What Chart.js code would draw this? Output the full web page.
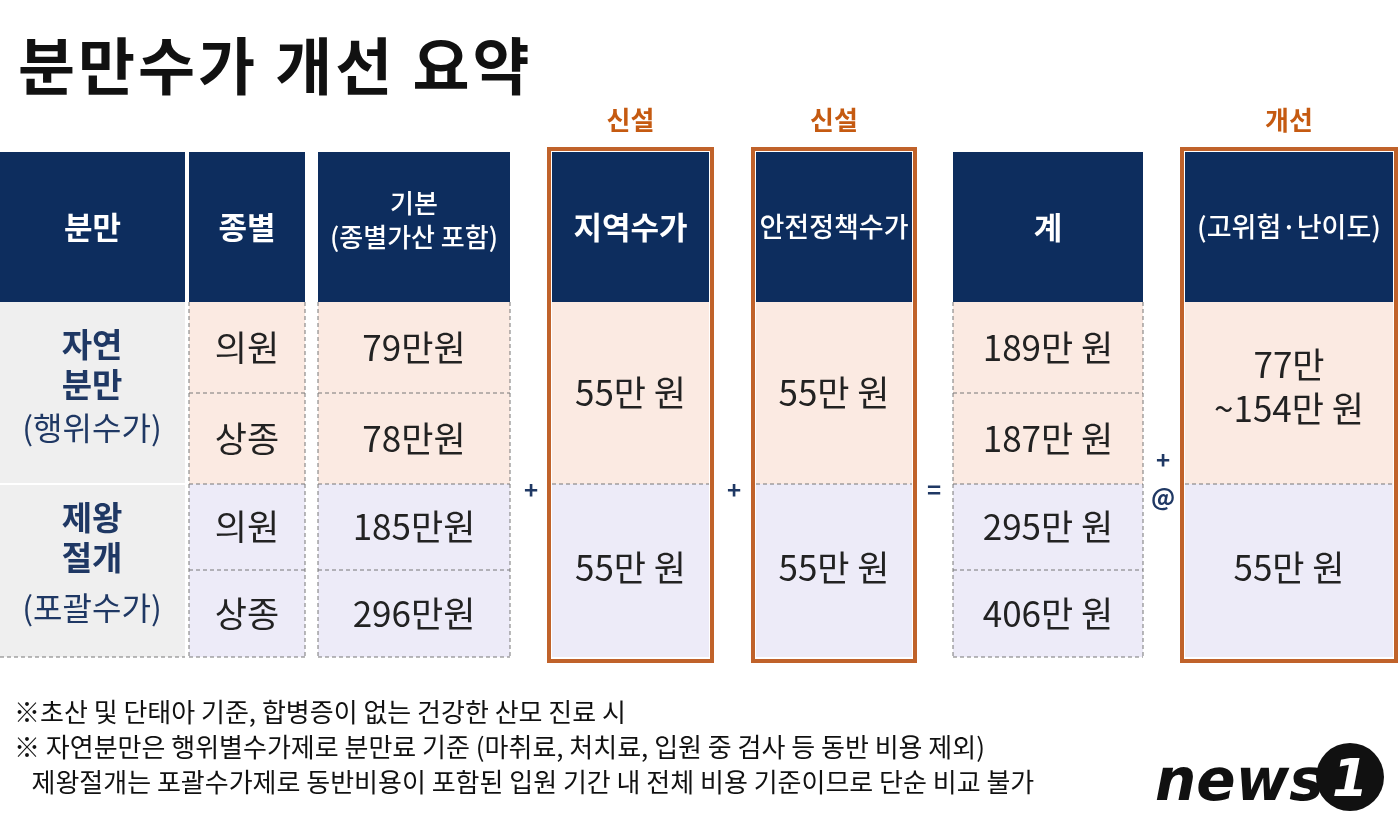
<!DOCTYPE html><html><head><meta charset="utf-8">
<script src="https://cdn.jsdelivr.net/npm/chart.js@4"></script>
<style>html,body{margin:0;padding:0;background:#fff}#w{width:1400px;height:830px}</style></head><body>
<div id="w"><canvas id="c" width="1400" height="830"></canvas></div>
<script>
const title = "분만수가 개선 요약";
const headers = ["분만","종별","기본\n(종별가산 포함)","지역수가","안전정책수가","계","(고위험·난이도)"];
const topLabels = [null,null,null,"신설","신설",null,"개선"];
const groups = ["자연\n분만","제왕\n절개"];
const groupSub = ["(행위수가)","(포괄수가)"];
const kinds = ["의원","상종","의원","상종"];
const basic = ["79만원","78만원","185만원","296만원"];
const regional = ["55만 원","55만 원"];
const safety = ["55만 원","55만 원"];
const totals = ["189만 원","187만 원","295만 원","406만 원"];
const improve = ["77만\n~154만 원","55만 원"];
const ops = ["+","+","=","+\n@"];
const notes = ["※초산 및 단태아 기준, 합병증이 없는 건강한 산모 진료 시",
"※ 자연분만은 행위별수가제로 분만료 기준 (마취료, 처치료, 입원 중 검사 등 동반 비용 제외)",
"   제왕절개는 포괄수가제로 동반비용이 포함된 입원 기간 내 전체 비용 기준이므로 단순 비교 불가"];
const colL=[0,189,318,552,756,953,1185], colR=[185,305,510,709,912,1143,1393];
const rowB=[152,302,393,484,570,657];
const F="'Noto Sans CJK KR','Noto Sans',sans-serif";
const plugin={id:'tbl',afterDraw(ch){
 const c=ch.ctx,X=v=>ch.scales.x.getPixelForValue(v),Y=v=>ch.scales.y.getPixelForValue(v);
 c.save();c.textAlign='left';c.textBaseline='alphabetic';
 c.fillStyle='#111';c.font="bold 62px "+F;c.letterSpacing='3px';c.fillText(title,X(18),Y(90));c.letterSpacing='0px';
 const rect=(x0,y0,x1,y1,col)=>{c.fillStyle=col;c.fillRect(X(x0),Y(y0),X(x1)-X(x0),Y(y1)-Y(y0));};
 const txt=(s,x,y,font,col,lh)=>{c.font=font;c.fillStyle=col;c.textAlign='center';c.textBaseline='middle';const L=s.split('\n');L.forEach((l,i)=>c.fillText(l,X(x),Y(y+(i-(L.length-1)/2)*lh)));};
 const pink='#fbeae2',lav='#edebf8',gray='#efefef';
 const hf=["bold 31px ","bold 31px ","500 26px ","bold 31px ","500 27px ","bold 31px ","500 27px "];
 for(let k=0;k<7;k++){
  rect(colL[k],rowB[0],colR[k],rowB[1],'#0d2d5e');
  const cx=(colL[k]+colR[k])/2;
  txt(headers[k],cx,k==2?220:227,hf[k]+F,'#fff',34);
  for(let r=0;r<4;r++) rect(colL[k],rowB[r+1],colR[k],rowB[r+2],k==0?gray:(r<2?pink:lav));
  if(topLabels[k]) txt(topLabels[k],cx,120,"bold 26px "+F,'#c55a11',30);
 }
 c.strokeStyle='#777';c.lineWidth=1;c.setLineDash([4,3]);
 for(let k=0;k<7;k++){
  let hs=(k==3||k==4||k==6)?[484]:[393,484,570];
  if(k==0) hs=[];
  if(k!=3&&k!=4&&k!=6) hs.push(657);
  hs.forEach(y=>{c.beginPath();c.moveTo(X(colL[k]),Y(y));c.lineTo(X(colR[k]),Y(y));c.stroke();});
  if(k==1||k==2||k==5){[colL[k],colR[k]].forEach(x=>{c.beginPath();c.moveTo(X(x),Y(302));c.lineTo(X(x),Y(657));c.stroke();});}
 }
 c.setLineDash([]);
 c.fillStyle='#fff';c.fillRect(X(0),Y(483),X(185),2);
 c.strokeStyle='#c0622a';c.lineWidth=4;
 [3,4,6].forEach(k=>c.strokeRect(X(colL[k]-3),Y(149),X(colR[k]+3)-X(colL[k]-3),Y(661)-Y(149)));
 const cx=k=>(colL[k]+colR[k])/2, body="35px "+F, dk='#222';
 groups.forEach((g,i)=>{txt(g,92,[372,545][i]-8,"bold 33px "+F,'#1f3864',40);txt(groupSub[i],92,[428,608][i],"32px "+F,'#1f3864',40);});
 for(let r=0;r<4;r++){const my=(rowB[r+1]+rowB[r+2])/2;
  txt(kinds[r],cx(1),my,body,dk,40);txt(basic[r],cx(2),my,body,dk,40);txt(totals[r],cx(5),my,body,dk,40);}
 for(let g=0;g<2;g++){const my=[393,568][g];
  txt(regional[g],cx(3),my,body,dk,40);txt(safety[g],cx(4),my,body,dk,40);txt(improve[g],cx(6),g==0?387:my,body,dk,44);}
 [531,734,934,1163].forEach((x,i)=>txt(ops[i],x,i==3?478:490,"bold 24px "+F,'#1f3864',37));
 c.textAlign='left';c.fillStyle='#111';c.font="26px "+F;c.textBaseline='alphabetic';
 notes.forEach((n,i)=>c.fillText(n,X(14),Y(722+i*35)));
 c.font="italic bold 58px 'DejaVu Sans',sans-serif";c.fillStyle='#111';c.fillText("news",X(1155),Y(800));
 c.beginPath();c.arc(X(1350),Y(777),34,0,Math.PI*2);c.fill();
 c.fillStyle='#fff';c.font="italic bold 52px 'DejaVu Sans'";c.textAlign='center';c.fillText("1",X(1350),Y(796));
 c.restore();}};
new Chart(document.getElementById('c'),{type:'scatter',data:{datasets:[{data:[]}]},
 options:{responsive:false,animation:false,events:[],layout:{padding:0},plugins:{legend:{display:false},tooltip:{enabled:false}},
 scales:{x:{type:'linear',min:0,max:1400,display:false},y:{type:'linear',min:0,max:830,reverse:true,display:false}}},
 plugins:[plugin]});
</script></body></html>
